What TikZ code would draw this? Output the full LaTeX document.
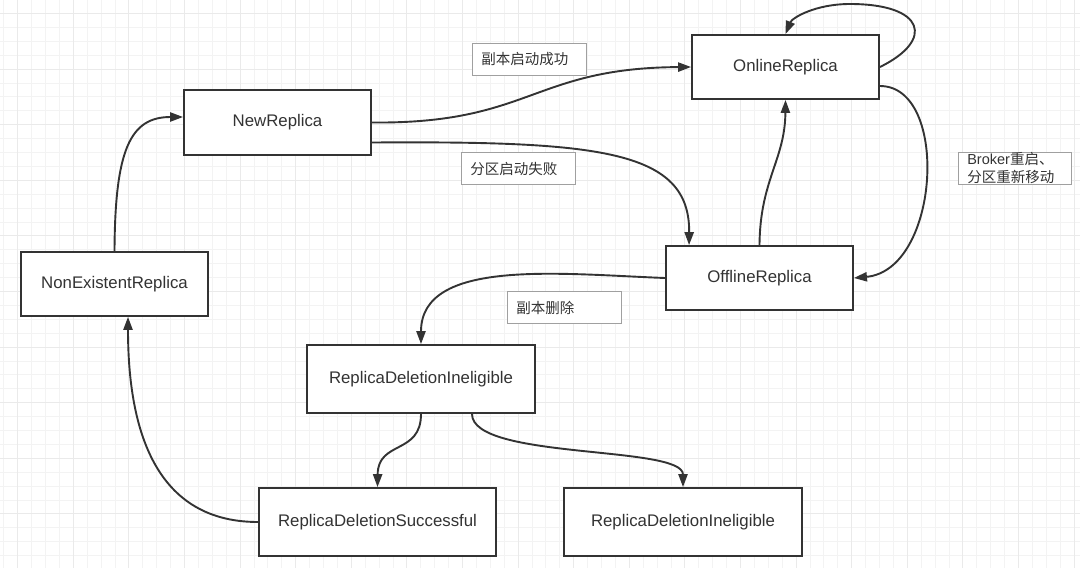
\documentclass[tikz,border=0pt]{standalone}
\usepackage{fontspec}
\setmainfont{Liberation Sans}
\newfontfamily\cjk{Noto Sans CJK SC}
\usetikzlibrary{arrows.meta,calc}
\definecolor{ink}{HTML}{333333}
\definecolor{lblborder}{HTML}{A0A0A0}
\definecolor{gridminor}{HTML}{F3F3F3}
\definecolor{gridmajor}{HTML}{EAEAEA}
\tikzset{
  state/.style={draw=ink, line width=0.95pt, fill=white, text=ink, inner sep=0pt,
    font=\fontsize{8.4pt}{10pt}\selectfont, minimum width=93.5pt, minimum height=32pt},
  lbl/.style={draw=lblborder, line width=0.5pt, fill=white, text=ink, anchor=north west,
    inner xsep=4.4pt, inner ysep=0pt, align=left, minimum height=16pt, text width=48pt,
    font=\fontsize{7.25pt}{9pt}\selectfont},
  conn/.style={draw=ink, line width=0.95pt, -{Triangle[length=6.5pt,width=4.6pt]}},
}
\begin{document}
\begin{tikzpicture}[x=0.5pt,y=-0.5pt]
\useasboundingbox (0,0) rectangle (1080,568);
\fill[white] (0,0) rectangle (1080,568);
% grid
\foreach \i in {0,...,78} {
  \draw[gridminor, line width=0.5pt] ({3.8+\i*13.9},0) -- ({3.8+\i*13.9},568);
}
\foreach \j in {0,...,41} {
  \draw[gridminor, line width=0.5pt] (0,{-0.4+\j*13.9}) -- (1080,{-0.4+\j*13.9});
}
\foreach \i in {0,...,19} {
  \draw[gridmajor, line width=0.5pt] ({17.7+\i*55.6},0) -- ({17.7+\i*55.6},568);
}
\foreach \j in {0,...,10} {
  \draw[gridmajor, line width=0.5pt] (0,{13.5+\j*55.6}) -- (1080,{13.5+\j*55.6});
}

% states
\node[state] (online) at (785.5,67) {OnlineReplica};
\node[state, minimum height=32.5pt] (new) at (277.5,122.5) {NewReplica};
\node[state] (nonex) at (114.5,284) {NonExistentReplica};
\node[state] (offline) at (759.5,278) {OfflineReplica};
\node[state, minimum width=114pt, minimum height=34pt] (rdi) at (421,379) {ReplicaDeletionIneligible};
\node[state, minimum width=118.5pt, minimum height=34pt] (rds) at (377.5,522) {ReplicaDeletionSuccessful};
\node[state, minimum width=119pt, minimum height=34pt] (rdi2) at (683,522) {ReplicaDeletionIneligible};

% labels
\node[lbl] (l1) at (472,43) {{\cjk 副本启动成功}};
\node[lbl] (l2) at (461,152) {{\cjk 分区启动失败}};
\node[lbl, text width=47.7pt] (l3) at (958,152) {Broker{\cjk 重启、}\\{\cjk 分区重新移动}};
\node[lbl] (l4) at (507,291) {{\cjk 副本删除}};

% connectors
\draw[conn] (new.east) .. controls (531,124) and (532,68) .. (online.west);
\draw[conn] ([yshift=-10pt]new.east) .. controls (600,141) and (690,150) .. ([xshift=12pt]offline.north west);
\draw[conn] (offline.north) .. controls (760,180) and (785,160) .. (online.south);
\draw[conn] (online.east) .. controls (935,40) and (925,4) .. (850,4)
  .. controls (815,4) and (792,18) .. (online.north);
\draw[conn] ([yshift=-9.5pt]online.east) .. controls (950,86) and (940,270) .. (offline.east);
\draw[conn] (offline.west) .. controls (560,274) and (421,258) .. (rdi.north);
\draw[conn] (rdi.south) .. controls (421,455) and (378,440) .. (rds.north);
\draw[conn] ([xshift=25.5pt]rdi.south) .. controls (472,460) and (683,445) .. (rdi2.north);
\draw[conn] (rds.west) .. controls (150,522) and (128,420) .. ([xshift=6.75pt]nonex.south);
\draw[conn] (nonex.north) .. controls (115,150) and (130,117) .. ([yshift=2.75pt]new.west);
\end{tikzpicture}
\end{document}
